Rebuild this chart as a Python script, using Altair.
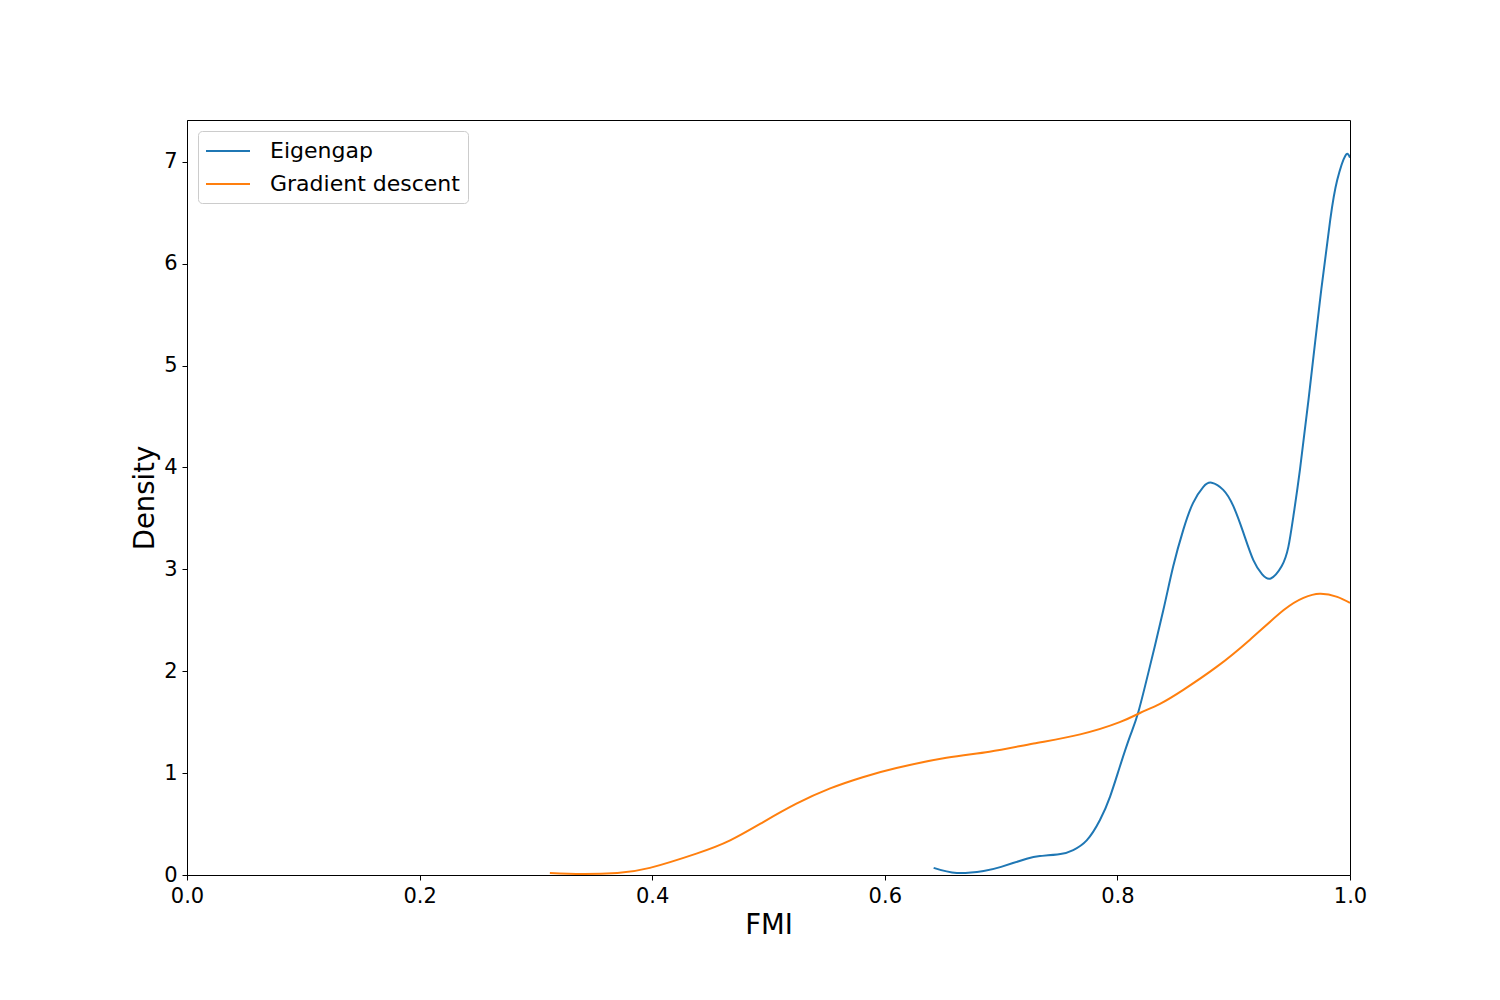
import altair as alt
import pandas as pd

# Eigengap KDE
eig_x = [0.642, 0.662, 0.685, 0.700, 0.722, 0.7334, 0.751, 0.762, 0.7736, 0.785,
         0.7937, 0.802, 0.8108, 0.818, 0.828, 0.8395, 0.848, 0.8567, 0.865, 0.8739,
         0.881, 0.891, 0.8997, 0.9083, 0.9169, 0.9245, 0.9318, 0.9412, 0.947, 0.9513,
         0.957, 0.9656, 0.9742, 0.983, 0.989, 0.996, 1.0]
eig_y = [0.07, 0.02, 0.04, 0.08, 0.16, 0.186, 0.206, 0.245, 0.34, 0.54,
         0.77, 1.06, 1.36, 1.60, 2.05, 2.60, 3.03, 3.39, 3.65, 3.81,
         3.85, 3.78, 3.62, 3.36, 3.09, 2.95, 2.91, 3.03, 3.22, 3.52,
         3.98, 4.79, 5.64, 6.43, 6.82, 7.06, 7.04]

# Gradient descent KDE
gd_x = [0.312, 0.34, 0.37, 0.398, 0.438, 0.467, 0.4955, 0.524, 0.553, 0.581,
        0.610, 0.653, 0.690, 0.728, 0.768, 0.802, 0.8194, 0.8366, 0.857, 0.885,
        0.914, 0.943, 0.960, 0.974, 0.989, 1.0]
gd_y = [0.02, 0.01, 0.02, 0.07, 0.21, 0.34, 0.52, 0.70, 0.85, 0.96,
        1.05, 1.15, 1.21, 1.29, 1.38, 1.50, 1.59, 1.68, 1.82, 2.04,
        2.31, 2.60, 2.72, 2.76, 2.73, 2.67]

series = ["Eigengap", "Gradient descent"]
colors = ["#1f77b4", "#ff7f0e"]

rows = []
for i, (x, y) in enumerate(zip(eig_x, eig_y)):
    rows.append({"FMI": x, "Density": y, "Method": series[0], "order": i})
for i, (x, y) in enumerate(zip(gd_x, gd_y)):
    rows.append({"FMI": x, "Density": y, "Method": series[1], "order": i})
df = pd.DataFrame(rows)

FONT = "DejaVu Sans"

chart = alt.Chart(df).mark_line(strokeWidth=2, interpolate="natural", clip=True).encode(
    x=alt.X("FMI:Q", title="FMI",
            scale=alt.Scale(domain=[0, 1], nice=False, zero=False),
            axis=alt.Axis(values=[0, 0.2, 0.4, 0.6, 0.8, 1.0], format=".1f", grid=False,
                          tickSize=5, labelPadding=5, titlePadding=5, labelFlush=False)),
    y=alt.Y("Density:Q", title="Density",
            scale=alt.Scale(domain=[0, 7.41], nice=False),
            axis=alt.Axis(values=[0, 1, 2, 3, 4, 5, 6, 7], format="d", grid=False,
                          tickSize=5, labelPadding=5, titlePadding=4)),
    color=alt.Color("Method:N", scale=alt.Scale(domain=series, range=colors),
                    legend=alt.Legend(title=None, orient="none", legendX=11, legendY=11,
                                      symbolType="M-2,0H2", symbolSize=484,
                                      symbolOffset=10,
                                      symbolStrokeWidth=2, labelFontSize=22,
                                      labelFont=FONT, labelOffset=30, rowPadding=10,
                                      labelLimit=400,
                                      padding=8, strokeColor="#cccccc", fillColor="white",
                                      cornerRadius=4)),
    order="order:Q",
).properties(
    width=1163, height=755,
    autosize=alt.AutoSizeParams(type="none"),
    padding={"left": 179, "top": 112, "right": 142, "bottom": 117},
).configure_view(
    stroke="black", strokeWidth=1
).configure_axis(
    labelFont=FONT, titleFont=FONT, labelFontSize=21, titleFontSize=27.5,
    titleFontWeight="normal", labelColor="black", titleColor="black",
    domainColor="black", tickColor="black", domainWidth=1, tickWidth=1,
)

chart.save("out.html", embed_options={"renderer": "svg", "actions": False})
